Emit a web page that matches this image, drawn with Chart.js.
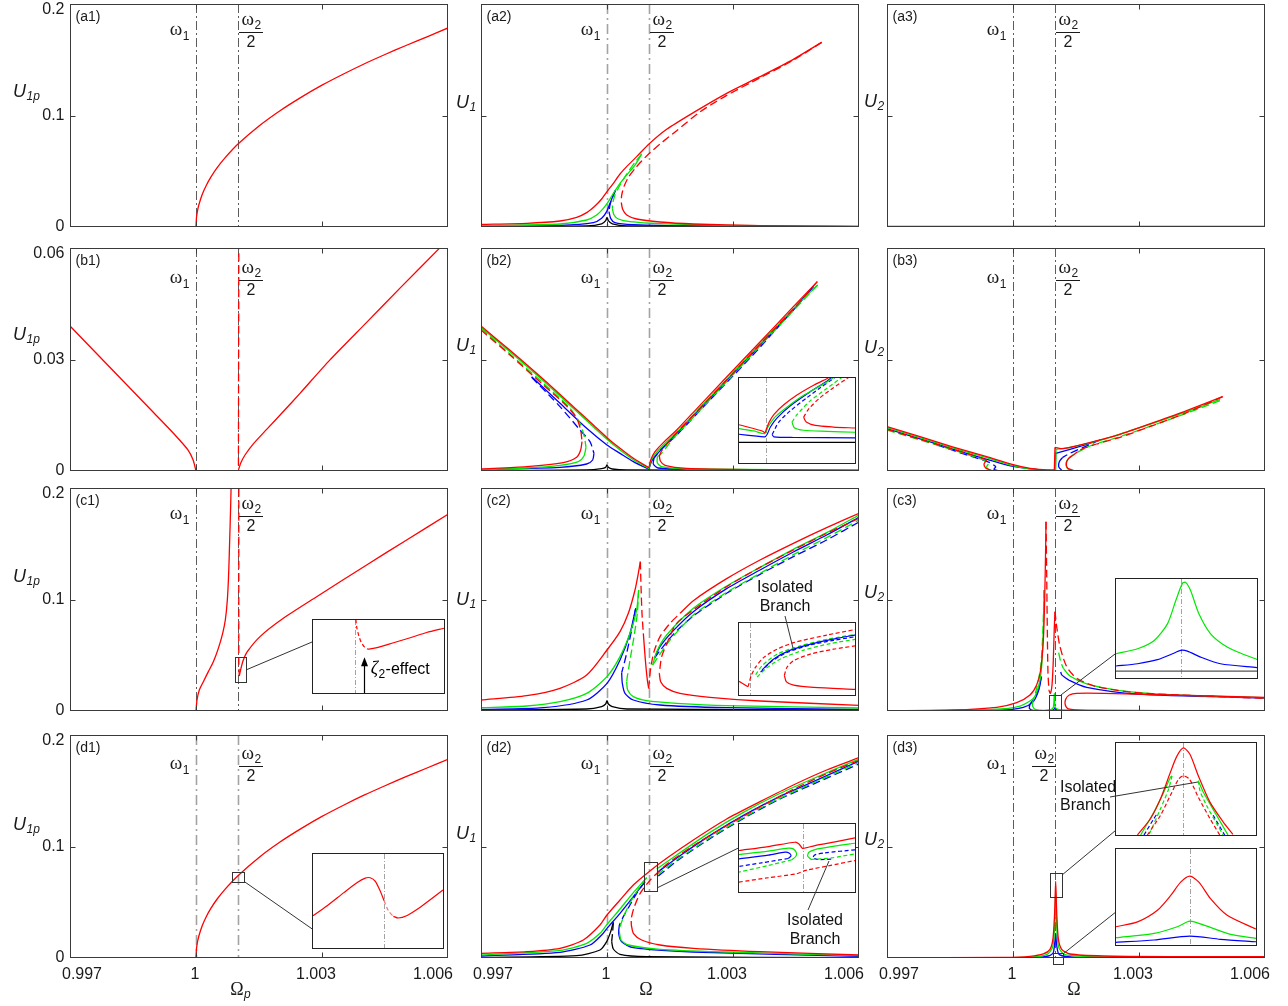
<!DOCTYPE html>
<html>
<head>
<meta charset="utf-8">
<title>Frequency response curves</title>
<script src="https://cdn.jsdelivr.net/npm/chart.js@4.4.1/dist/chart.umd.min.js"></script>
<style>
  html, body { margin: 0; padding: 0; background: #fff; }
  body { position: relative; width: 1288px; height: 1006px; overflow: hidden; }
  canvas { position: absolute; }
</style>
</head>
<body>
<script>
// ---------------------------------------------------------------------------
// Axis values
// ---------------------------------------------------------------------------
const omegaTicks = [0.997, 1, 1.003, 1.006];
const omegaTickText = ['0.997', '1', '1.003', '1.006'];
const u1pTicks = [0, 0.1, 0.2];
const u1pTicksB = [0, 0.03, 0.06];
const normTicks = [0, 0.5, 1];
const omega1 = 1.0;
const omega2Half = 1.001;

// ---------------------------------------------------------------------------
// Column 1 : U1p vs Omega_p
// ---------------------------------------------------------------------------
const a1Red = [[1.0,0],[1.00001,0.0078],[1.00002,0.0109],[1.00004,0.0154],[1.00007,0.0202],[1.00015,0.0294],[1.00025,0.0377],[1.00035,0.0445],[1.0005,0.053],[1.0007,0.0624],[1.001,0.0744],[1.0015,0.0906],[1.002,0.1043],[1.0025,0.1163],[1.003,0.1272],[1.0035,0.137],[1.004,0.1462],[1.0045,0.1547],[1.005,0.1628],[1.0055,0.1706],[1.006,0.1785]];

const b1RedL = [[0.997,0.039],[0.998,0.0273],[0.999,0.0156],[0.9995,0.0097],[0.9998,0.0058],[0.99993,0.003],[1.0,0]];
const b1RedDash = [[1.00101,0.0015],[1.00102,0.061]];
const b1RedR = [[1.001016,0.00045],[1.001063,0.0021],[1.001167,0.0043],[1.001365,0.0073],[1.001683,0.0112],[1.002079,0.016],[1.002476,0.0209],[1.00319,0.0299],[1.004063,0.04],[1.004857,0.0492],[1.005794,0.0599]];

const c1RedL = [[1.0,0],[1.000024,0.0099],[1.000079,0.0188],[1.000175,0.0263],[1.000294,0.0353],[1.000413,0.0442],[1.000532,0.0562],[1.000635,0.0697],[1.000698,0.0816],[1.000746,0.0996],[1.000778,0.1235],[1.000802,0.1534],[1.000825,0.1833],[1.000841,0.21]];
const c1RedDash = [[1.00102,0.21],[1.00102,0.045],[1.00103,0.0314]];
const c1RedR = [[1.00103,0.0314],[1.001071,0.0383],[1.001127,0.0457],[1.001222,0.0532],[1.001524,0.0667],[1.002079,0.0831],[1.002873,0.1025],[1.004063,0.131],[1.005016,0.1534],[1.006,0.1764]];

const d1Red = [[1.0,0],[1.00001,0.0077],[1.00002,0.0108],[1.00004,0.0153],[1.00007,0.02],[1.00015,0.0292],[1.00025,0.0375],[1.00035,0.0443],[1.0005,0.0527],[1.0007,0.062],[1.001,0.0738],[1.0015,0.0902],[1.002,0.104],[1.0025,0.116],[1.003,0.127],[1.0035,0.1368],[1.004,0.146],[1.0045,0.1545],[1.005,0.1626],[1.0055,0.1704],[1.006,0.1782]];

// ---------------------------------------------------------------------------
// Column 2 : U1 vs Omega (normalised amplitude)
// ---------------------------------------------------------------------------
const a2RedUp = [[0.997,0.012],[0.998087,0.0164],[0.998881,0.0269],[0.999278,0.0433],[0.999516,0.0643],[0.999714,0.0942],[0.999873,0.1256],[1.0,0.1584],[1.000151,0.1958],[1.00031,0.2377],[1.000468,0.2706],[1.000706,0.3154],[1.001,0.3722],[1.001421,0.438],[1.002056,0.5127],[1.002849,0.5994],[1.003643,0.6741],[1.004437,0.7519],[1.005111,0.8281]];
const a2RedDash = [[1.005111,0.8281],[1.004437,0.748],[1.003643,0.669],[1.002849,0.59],[1.002214,0.516],[1.001659,0.432],[1.001262,0.372],[1.001024,0.333],[1.000825,0.296],[1.000667,0.262],[1.000508,0.222],[1.000405,0.182],[1.000349,0.142],[1.000341,0.109]];
const a2RedLow = [[1.000341,0.109],[1.000373,0.0792],[1.000468,0.0538],[1.000706,0.0359],[1.001262,0.0224],[1.002056,0.0135],[1.003643,0.006],[1.006,0.003]];
const a2GreenUp = [[0.997,0.006],[0.998881,0.0135],[0.999516,0.0314],[0.999754,0.0538],[0.999913,0.0837],[1.000032,0.1136],[1.000151,0.151],[1.00031,0.1958],[1.000468,0.2332],[1.000667,0.278],[1.000825,0.3274]];
const a2GreenDash = [[1.000825,0.3274],[1.000667,0.29],[1.000468,0.2377],[1.00031,0.1883],[1.00019,0.1435],[1.000135,0.1061],[1.000127,0.0837]];
const a2GreenLow = [[1.000127,0.0837],[1.000167,0.0538],[1.00027,0.0359],[1.000548,0.0239],[1.001262,0.0149],[1.002849,0.0075],[1.006,0.003]];
const a2BlueUp = [[0.997,0.003],[0.998881,0.0075],[0.999675,0.0194],[0.999873,0.0389],[0.999992,0.0688],[1.000071,0.1061],[1.000151,0.1435],[1.000206,0.1659]];
const a2BlueDash = [[1.000206,0.1659],[1.000135,0.136],[1.000071,0.0987],[1.000048,0.0688]];
const a2BlueLow = [[1.000048,0.0688],[1.000087,0.0389],[1.00019,0.0194],[1.000627,0.0105],[1.002056,0.0045],[1.006,0.0015]];
const a2Black = [[0.997,0.0015],[0.999516,0.0045],[0.999873,0.0135],[0.999968,0.0284],[1.0,0.0433],[1.000032,0.0284],[1.000127,0.0135],[1.000468,0.0045],[1.006,0.0015]];

const b2RedDesc = [[0.997,0.6502],[0.99769,0.5411],[0.998484,0.4111],[0.999198,0.2885],[0.999675,0.2063],[1.0,0.1495],[1.00031,0.1016],[1.000627,0.0568],[1.000865,0.0299],[1.001,0.0149]];
const b2RedDashL = [[0.997,0.6323],[0.99769,0.5202],[0.998484,0.3857],[0.99904,0.2915],[0.999278,0.2362],[0.999373,0.1839],[0.999405,0.1315]];
const b2RedHookL = [[0.999405,0.1315],[0.999373,0.0942],[0.999278,0.0613],[0.99896,0.0374],[0.998087,0.0194],[0.997,0.009]];
const b2RedAsc = [[1.001,0.0149],[1.00104,0.0493],[1.001143,0.0867],[1.001341,0.1271],[1.001659,0.1839],[1.002056,0.2631],[1.002849,0.4215],[1.003643,0.5785],[1.004437,0.7369],[1.005008,0.849]];
const b2RedDashR = [[1.005008,0.849],[1.004437,0.7265],[1.003643,0.568],[1.002849,0.4081],[1.002056,0.2496],[1.001659,0.1719],[1.001421,0.1211],[1.001302,0.0912],[1.001246,0.0673]];
const b2RedLowR = [[1.001246,0.0673],[1.00127,0.0448],[1.001381,0.0254],[1.001897,0.012],[1.003643,0.006],[1.006,0.003]];
const b2GreenDesc = [[0.997,0.6442],[0.99769,0.5351],[0.998484,0.4051],[0.999198,0.281],[0.999675,0.1988],[1.0,0.142],[1.00031,0.0942],[1.000627,0.0508],[1.000865,0.0254],[1.001,0.0105]];
const b2GreenDashL = [[0.997,0.6383],[0.99769,0.5247],[0.998484,0.3931],[0.999119,0.281],[0.999357,0.2138],[0.99946,0.154],[0.9995,0.1061]];
const b2GreenHookL = [[0.9995,0.1061],[0.999452,0.0673],[0.999317,0.0419],[0.998881,0.0254],[0.998087,0.0135],[0.997,0.006]];
const b2GreenAsc = [[1.001,0.0105],[1.001048,0.0463],[1.001159,0.0792],[1.001365,0.1211],[1.001683,0.1779],[1.002079,0.2571],[1.002849,0.4111],[1.003643,0.5695],[1.004437,0.728],[1.005016,0.8341]];
const b2GreenDashR = [[1.005016,0.8341],[1.004437,0.719],[1.003643,0.5605],[1.002849,0.4006],[1.002056,0.2407],[1.001579,0.1465],[1.001302,0.0792],[1.001198,0.0643]];
const b2GreenLowR = [[1.001198,0.0643],[1.001198,0.0374],[1.001302,0.0194],[1.001897,0.009],[1.006,0.0045]];
const b2BlueDesc = [[0.998206,0.423],[0.998881,0.3034],[0.999516,0.1913],[1.0,0.1166],[1.00031,0.0792],[1.000627,0.0419],[1.001,0.0075]];
const b2BlueDashL = [[0.998206,0.42],[0.998881,0.2885],[0.999357,0.1839],[0.999595,0.1315],[0.99969,0.0792]];
const b2BlueHookL = [[0.99969,0.0792],[0.999659,0.0493],[0.999516,0.0314],[0.998881,0.0164],[0.997,0.006]];
const b2BlueAsc = [[1.001,0.0075],[1.001056,0.0419],[1.001183,0.0747],[1.001421,0.1211],[1.002056,0.2481],[1.002849,0.4066],[1.003643,0.5635],[1.004437,0.722],[1.004913,0.8266]];
const b2BlueDashR = [[1.004913,0.8266],[1.003643,0.5546],[1.002452,0.3184],[1.001659,0.1614],[1.001262,0.0912],[1.001119,0.0568]];
const b2BlueLowR = [[1.001119,0.0568],[1.001103,0.0314],[1.001222,0.0135],[1.002056,0.006],[1.006,0.0015]];
const b2Black = [[0.997,0.0015],[0.999516,0.0045],[0.999873,0.0105],[0.999968,0.0164],[1.0,0.0269],[1.000032,0.0164],[1.000127,0.009],[1.000468,0.0045],[1.006,0.0015]];

const c2RedL = [[0.997,0.0493],[0.998087,0.0688],[0.998881,0.1016],[0.999516,0.1614],[1.0,0.2735],[1.00031,0.3558],[1.000508,0.438],[1.000667,0.5426],[1.000746,0.6173],[1.000794,0.6697]];
const c2RedDash1 = [[1.000794,0.6697],[1.00081,0.5575],[1.000833,0.438],[1.000865,0.3483]];
const c2RedMid = [[1.000865,0.3483],[1.000913,0.2287],[1.00096,0.139],[1.000992,0.1016]];
const c2RedDash2 = [[1.000992,0.1016],[1.00104,0.1913],[1.001119,0.2661],[1.001262,0.3333],[1.0015,0.3931],[1.001738,0.438]];
const c2RedUp = [[1.001738,0.438],[1.002056,0.4948],[1.002849,0.5934],[1.003643,0.6771],[1.004437,0.7519],[1.00523,0.8221],[1.006,0.8864]];
const c2RedDash3 = [[1.006,0.864],[1.00523,0.7967],[1.004437,0.722],[1.003643,0.6442],[1.002849,0.5575],[1.002214,0.4753],[1.001659,0.3931],[1.00146,0.3184],[1.001302,0.2436],[1.001246,0.1689]];
const c2RedLow = [[1.001246,0.1689],[1.001278,0.1315],[1.001421,0.1016],[1.001738,0.0792],[1.002452,0.0613],[1.003643,0.0448],[1.006,0.0254]];
const c2GreenL = [[0.997,0.0149],[0.998087,0.0224],[0.998881,0.0419],[0.999516,0.0792],[1.0,0.154],[1.00031,0.2436],[1.000548,0.3483],[1.000706,0.4529],[1.000754,0.5426]];
const c2GreenDash = [[1.000754,0.5426],[1.000722,0.438],[1.000643,0.3333],[1.000548,0.2287],[1.000484,0.154],[1.000468,0.1315]];
const c2GreenLow = [[1.000468,0.1315],[1.000492,0.0942],[1.000627,0.0643],[1.000944,0.0463],[1.001659,0.0344],[1.002849,0.0239],[1.006,0.0135]];
const c2GreenUp = [[1.001087,0.2063],[1.001183,0.2661],[1.001421,0.3408],[1.002056,0.4604],[1.002849,0.5605],[1.003643,0.6442],[1.004437,0.725],[1.00523,0.7997],[1.006,0.8789]];
const c2GreenDashUp = [[1.001087,0.2063],[1.001222,0.2436],[1.0015,0.3184],[1.002056,0.4305],[1.002849,0.5321],[1.003643,0.6173],[1.004437,0.701],[1.00523,0.7773],[1.006,0.8565]];
const c2BlueL = [[0.997,0.0075],[0.998484,0.0149],[0.999516,0.0493],[1.0,0.1241],[1.00031,0.2287],[1.000548,0.3483],[1.000683,0.4604]];
const c2BlueDash = [[1.000683,0.4604],[1.000587,0.3632],[1.000468,0.2586],[1.000389,0.1988],[1.000349,0.1719]];
const c2BlueLow = [[1.000349,0.1719],[1.000365,0.1241],[1.000429,0.0792],[1.000627,0.0493],[1.001262,0.0269],[1.002849,0.0149],[1.006,0.0075]];
const c2BlueUp = [[1.001127,0.2362],[1.001262,0.2885],[1.001579,0.3602],[1.002056,0.4454],[1.002849,0.5486],[1.003643,0.6323],[1.004437,0.713],[1.00523,0.7892],[1.006,0.8685]];
const c2BlueDashUp = [[1.001127,0.2362],[1.001262,0.2706],[1.001579,0.3438],[1.002056,0.426],[1.002849,0.5277],[1.003643,0.6129],[1.004437,0.6921],[1.00523,0.7668],[1.006,0.8475]];
const c2Black = [[0.997,0.0045],[0.999516,0.009],[0.999873,0.0194],[0.999968,0.0314],[1.0,0.0463],[1.000032,0.0314],[1.000127,0.0194],[1.000468,0.009],[1.006,0.0045]];

const d2RedUp = [[0.997,0.0209],[0.998087,0.0284],[0.998881,0.0433],[0.999437,0.0807],[0.999833,0.148],[1.0,0.1928],[1.00031,0.2601],[1.000627,0.3274],[1.001,0.3871],[1.001421,0.4469],[1.002056,0.5291],[1.002849,0.6233],[1.003643,0.701],[1.004437,0.7758],[1.00523,0.843],[1.006,0.8984]];
const d2RedDash = [[1.006,0.8864],[1.00523,0.8266],[1.004437,0.7564],[1.003643,0.6771],[1.002849,0.5934],[1.002056,0.5037],[1.001421,0.42],[1.001024,0.3483],[1.000786,0.2885],[1.000643,0.2257],[1.000579,0.1779],[1.000579,0.148]];
const d2RedLow = [[1.000579,0.148],[1.000627,0.1106],[1.000825,0.0807],[1.001262,0.0583],[1.002056,0.0433],[1.003643,0.0284],[1.006,0.0135]];
const d2GreenL = [[0.997,0.0135],[0.998881,0.0344],[0.999516,0.0658],[0.999833,0.1106],[1.0,0.151],[1.00031,0.2197],[1.000627,0.293],[1.000944,0.3602]];
const d2GreenDash = [[1.000944,0.3602],[1.000786,0.3199],[1.000587,0.2601],[1.000429,0.2003],[1.000325,0.148],[1.000294,0.1181]];
const d2GreenLow = [[1.000294,0.1181],[1.000333,0.0807],[1.000508,0.0583],[1.001262,0.0389],[1.002849,0.0269],[1.006,0.0105]];
const d2GreenUp = [[1.001183,0.3991],[1.001659,0.4619],[1.002452,0.5635],[1.003246,0.6532],[1.00404,0.7309],[1.004833,0.7982],[1.006,0.8924]];
const d2GreenDashUp = [[1.001183,0.3722],[1.001659,0.4395],[1.002452,0.5396],[1.003246,0.6293],[1.00404,0.71],[1.004833,0.7788],[1.006,0.8774]];
const d2BlueL = [[0.997,0.009],[0.998881,0.0254],[0.999595,0.0583],[0.999873,0.1031],[1.0,0.133],[1.00031,0.2003],[1.000627,0.275],[1.000905,0.3423]];
const d2BlueDash = [[1.000905,0.3423],[1.000706,0.29],[1.000548,0.2377],[1.000389,0.1853],[1.000294,0.148]];
const d2BlueLow = [[1.000294,0.148],[1.000278,0.1106],[1.000349,0.0732],[1.000627,0.0463],[1.002056,0.0269],[1.006,0.0075]];
const d2BlueUp = [[1.001222,0.3871],[1.001738,0.4589],[1.002532,0.559],[1.003325,0.6472],[1.004119,0.725],[1.004913,0.7907],[1.006,0.8834]];
const d2BlueDashUp = [[1.001222,0.368],[1.001738,0.445],[1.002532,0.545],[1.003325,0.634],[1.004119,0.713],[1.004913,0.78],[1.006,0.87]];
const d2BlackL = [[0.997,0.003],[0.999278,0.0105],[0.999833,0.0359],[0.999992,0.0732],[1.000087,0.1181],[1.000151,0.1599]];
const d2BlackDash = [[1.000151,0.1599],[1.000135,0.1181],[1.000111,0.0732]];
const d2BlackLow = [[1.000111,0.0732],[1.000151,0.0404],[1.00031,0.0164],[1.000944,0.006],[1.006,0.0015]];

// ---------------------------------------------------------------------------
// Column 3 : U2 vs Omega (normalised amplitude)
// ---------------------------------------------------------------------------
const a3Red = [[0.997,0.003],[1.006,0.003]];

const b3RedDesc = [[0.997,0.1988],[0.997786,0.154],[0.998579,0.1076],[0.999373,0.0643],[1.0,0.0284],[1.000405,0.012],[1.000722,0.006],[1.000921,0.0045],[1.000984,0.0045]];
const b3RedJump = [[1.000984,0.0045],[1.001,0.1061]];
const b3RedAsc = [[1.001,0.1061],[1.001198,0.1001],[1.001754,0.1241],[1.002548,0.1644],[1.003341,0.2167],[1.004135,0.2706],[1.004992,0.3333]];
const b3RedDashR = [[1.004992,0.3333],[1.004135,0.2616],[1.003341,0.2048],[1.002548,0.151],[1.001992,0.1211],[1.001595,0.0942],[1.001437,0.0717]];
const b3RedHookR = [[1.001437,0.0717],[1.001325,0.0568],[1.00127,0.0344],[1.001302,0.012],[1.001437,0.003]];
const b3RedDashL = [[0.997,0.1868],[0.997786,0.142],[0.998579,0.0972],[0.999214,0.0613],[0.999373,0.0493]];
const b3RedHookL = [[0.999373,0.0493],[0.99931,0.0314],[0.999349,0.0135],[0.999468,0.0045]];
const b3RedZero = [[0.997,0.0015],[1.006,0.0015]];
const b3GreenDesc = [[0.997,0.1943],[0.997786,0.1495],[0.998579,0.1031],[0.999373,0.0598],[1.0,0.0239],[1.000405,0.009],[1.000881,0.003]];
const b3GreenDashL = [[0.997,0.1839],[0.997786,0.139],[0.998579,0.0942],[0.999294,0.0493],[0.999413,0.0314]];
const b3GreenHookL = [[0.999413,0.0314],[0.999373,0.0194],[0.999413,0.0075],[0.999532,0.0015]];
const b3GreenJump = [[1.001016,0.0045],[1.001024,0.0972]];
const b3GreenAsc = [[1.001024,0.0972],[1.001357,0.1061],[1.002151,0.142],[1.002944,0.1898],[1.003738,0.2407],[1.004532,0.293],[1.004929,0.3214]];
const b3GreenDashR = [[1.004929,0.3154],[1.003738,0.2317],[1.002548,0.154],[1.001833,0.1121],[1.001516,0.0822],[1.001397,0.0673]];
const b3GreenHookR = [[1.001397,0.0673],[1.001294,0.0493],[1.001262,0.0269],[1.001317,0.0075],[1.001437,0.0015]];
const b3BlueDesc = [[0.997,0.1898],[0.998183,0.1211],[0.998976,0.0747],[1.0,0.0209],[1.000722,0.003]];
const b3BlueDashL = [[0.998183,0.1166],[0.998976,0.0673],[0.999452,0.0374],[0.999595,0.0194]];
const b3BlueHookL = [[0.999595,0.0194],[0.999548,0.0075],[0.999651,0.0015]];
const b3BlueJump = [[1.001008,0.003],[1.001016,0.0792]];
const b3BlueAsc = [[1.001016,0.0792],[1.001357,0.0972],[1.001754,0.1196],[1.002071,0.139]];
const b3BlueDashR = [[1.002071,0.139],[1.001675,0.1061],[1.001357,0.0792],[1.001183,0.0613]];
const b3BlueHookR = [[1.001183,0.0613],[1.001103,0.0419],[1.001087,0.0194],[1.001159,0.003]];

const c3RedL = [[0.997,0.0015],[0.998579,0.0045],[0.999611,0.0164],[1.000087,0.0374],[1.000405,0.0717],[1.000563,0.1166],[1.000659,0.1839],[1.000722,0.3184],[1.000754,0.4978],[1.000778,0.7369],[1.000786,0.849]];
const c3RedDash1 = [[1.000786,0.849],[1.000802,0.6173],[1.000817,0.3632],[1.000833,0.1689],[1.000857,0.0912]];
const c3RedV = [[1.000857,0.0912],[1.000889,0.0792],[1.000929,0.1166],[1.00096,0.2287],[1.000984,0.3782],[1.001,0.4454]];
const c3RedDash2 = [[1.001,0.4454],[1.00104,0.3782],[1.001119,0.2885],[1.001278,0.1988],[1.001516,0.1465],[1.001992,0.1091],[1.002944,0.0822],[1.004532,0.0673],[1.006,0.0568]];
const c3RedHook = [[1.006,0.0613],[1.003738,0.0717],[1.002151,0.0792],[1.001516,0.0792],[1.001341,0.0717],[1.001254,0.0523],[1.001246,0.0269],[1.001317,0.009],[1.001754,0.003],[1.006,0.0015]];
const c3GreenL = [[0.997,0],[0.999516,0.0075],[1.000167,0.0224],[1.000484,0.0568],[1.000603,0.1061],[1.000675,0.1839],[1.000722,0.3632],[1.000738,0.5426]];
const c3GreenDash = [[1.000738,0.5426],[1.000714,0.3632],[1.000659,0.1988],[1.000563,0.1016],[1.000484,0.0493]];
const c3GreenLow = [[1.000484,0.0493],[1.00046,0.0269],[1.000524,0.0075],[1.000881,0.0045],[1.00096,0.0164],[1.000984,0.0792],[1.001008,0.0164],[1.001119,0.0045],[1.002151,0.0015],[1.006,0]];
const c3GreenDashR = [[1.001087,0.2616],[1.001135,0.2212],[1.001198,0.1913]];
const c3GreenR = [[1.001198,0.1913],[1.001357,0.157],[1.001754,0.1211],[1.002548,0.0912],[1.003738,0.0732],[1.006,0.0598]];
const c3BlueL = [[0.997,0],[0.99977,0.0045],[1.000246,0.0164],[1.000484,0.0419],[1.000587,0.0792],[1.000643,0.1166],[1.000675,0.154]];
const c3BlueDash = [[1.000675,0.154],[1.000603,0.0942],[1.000508,0.0568],[1.000405,0.0314]];
const c3BlueLow = [[1.000405,0.0314],[1.00039,0.012],[1.000484,0.003],[1.000921,0.003],[1.000976,0.0075],[1.001,0.0149],[1.001024,0.0075],[1.001119,0.003],[1.006,0]];
const c3BlueDashR = [[1.001135,0.175],[1.001159,0.1614]];
const c3BlueR = [[1.001159,0.1614],[1.001357,0.136],[1.001754,0.1061],[1.002944,0.0762],[1.006,0.0583]];

const d3Red = [[0.997,0.0015],[0.99977,0.003],[1.000405,0.0075],[1.000722,0.018],[1.000881,0.0389],[1.000952,0.0867],[1.000992,0.2063],[1.001016,0.3438],[1.00104,0.2063],[1.001079,0.0867],[1.001159,0.0389],[1.001357,0.018],[1.002151,0.009],[1.003738,0.006],[1.006,0.006]];
const d3Green = [[0.997,0],[1.000325,0.003],[1.000802,0.015],[1.000944,0.049],[1.000992,0.146],[1.001016,0.296],[1.00104,0.146],[1.001087,0.049],[1.001238,0.015],[1.002151,0.0045],[1.006,0.0015]];
const d3Blue = [[0.997,0],[1.000405,0.0015],[1.000841,0.009],[1.00096,0.0239],[1.001016,0.109],[1.00104,0.0568],[1.001103,0.015],[1.001516,0.003],[1.006,0]];

// ---------------------------------------------------------------------------
// Inset curves (each inset uses a 0..1 frame of its own zoom window)
// ---------------------------------------------------------------------------
const b2iRedA = [[0,0.45],[0.1,0.415],[0.2,0.377],[0.223,0.358],[0.237,0.404],[0.26,0.481],[0.3,0.569],[0.386,0.685],[0.5,0.8],[0.643,0.915],[0.757,0.992],[0.78,1.01]];
const b2iRedDash = [[0.557,0.538],[0.6,0.635],[0.7,0.769],[0.814,0.885],[0.929,0.992],[0.95,1.01]];
const b2iRedB = [[0.557,0.538],[0.58,0.481],[0.657,0.442],[0.814,0.423],[1,0.412]];
const b2iGreenA = [[0,0.404],[0.129,0.377],[0.223,0.346],[0.249,0.423],[0.314,0.546],[0.429,0.673],[0.557,0.796],[0.729,0.931],[0.8,0.992],[0.82,1.01]];
const b2iGreenDash = [[0.457,0.481],[0.5,0.569],[0.614,0.731],[0.757,0.877],[0.871,0.992],[0.89,1.01]];
const b2iGreenB = [[0.457,0.481],[0.477,0.415],[0.557,0.385],[0.757,0.373],[1,0.362]];
const b2iBlueA = [[0,0.338],[0.129,0.319],[0.223,0.308],[0.243,0.338],[0.271,0.423],[0.329,0.531],[0.443,0.673],[0.614,0.838],[0.757,0.962],[0.8,1.01]];
const b2iBlueDash = [[0.286,0.335],[0.343,0.481],[0.443,0.615],[0.586,0.769],[0.7,0.885],[0.8,0.98],[0.83,1.01]];
const b2iBlueB = [[0.286,0.335],[0.3,0.308],[0.471,0.3],[1,0.296]];
const b2iBlack = [[0,0.242],[1,0.242]];

const c1iRedDash = [[0.327,1.01],[0.334,0.9],[0.349,0.788],[0.367,0.698],[0.392,0.631],[0.418,0.599]];
const c1iRed = [[0.418,0.599],[0.489,0.622],[0.615,0.689],[0.742,0.757],[0.868,0.829],[1,0.887]];

const c2iRedL = [[0,0.19],[0.077,0.114]];
const c2iRedDashUp = [[0.077,0.114],[0.086,0.159],[0.106,0.273],[0.143,0.386],[0.214,0.523],[0.329,0.636],[0.471,0.727],[0.757,0.832],[1,0.909]];
const c2iRedDashLow = [[0.391,0.273],[0.414,0.386],[0.471,0.477],[0.614,0.568],[0.814,0.636],[1,0.682]];
const c2iRedLow = [[0.391,0.273],[0.409,0.182],[0.471,0.136],[0.643,0.105],[1,0.077]];
const c2iGreenDashA = [[0.143,0.282],[0.2,0.409],[0.329,0.568],[0.529,0.682],[0.757,0.773],[1,0.841]];
const c2iGreenDashB = [[0.157,0.25],[0.229,0.364],[0.357,0.5],[0.557,0.623],[0.786,0.714],[1,0.773]];
const c2iBlueDash = [[0.186,0.318],[0.271,0.455],[0.414,0.591],[0.614,0.695],[0.814,0.759],[1,0.809]];
const c2iBlue = [[0.2,0.35],[0.3,0.5],[0.443,0.623],[0.643,0.718],[0.843,0.786],[1,0.832]];

const c3iGreen = [[0,0.245],[0.153,0.295],[0.271,0.379],[0.365,0.547],[0.424,0.782],[0.471,0.956],[0.494,0.966],[0.529,0.883],[0.588,0.648],[0.671,0.446],[0.788,0.312],[0.906,0.238],[1,0.188]];
const c3iBlue = [[0,0.121],[0.153,0.144],[0.294,0.185],[0.4,0.245],[0.459,0.279],[0.506,0.272],[0.6,0.211],[0.741,0.144],[1,0.104]];
const c3iBlack = [[0,0.07],[1,0.07]];

const d1iRed = [[0,0.344],[0.109,0.449],[0.237,0.589],[0.338,0.695],[0.402,0.744],[0.44,0.747],[0.478,0.712],[0.517,0.607],[0.547,0.502]];
const d1iRedDash = [[0.547,0.502],[0.58,0.396],[0.618,0.337]];
const d1iRedR = [[0.618,0.337],[0.656,0.319],[0.72,0.344],[0.822,0.432],[0.924,0.537],[1,0.618]];

const d2iRed = [[0,0.61],[0.253,0.668],[0.483,0.732],[0.517,0.707],[0.546,0.644],[0.575,0.649],[0.655,0.683],[0.828,0.737],[1,0.795]];
const d2iRedDash = [[0,0.146],[0.253,0.21],[0.497,0.268],[0.555,0.307],[0.598,0.327],[0.77,0.385],[1,0.463]];
const d2iGreenL = [[0,0.551],[0.253,0.6],[0.425,0.644],[0.468,0.634],[0.494,0.58],[0.489,0.522],[0.454,0.473]];
const d2iGreenLDash = [[0.454,0.473],[0.253,0.39],[0,0.293]];
const d2iBlueL = [[0,0.488],[0.253,0.541],[0.397,0.585],[0.434,0.571],[0.448,0.532],[0.425,0.493]];
const d2iBlueLDash = [[0.425,0.493],[0.195,0.429],[0,0.376]];
const d2iGreenR = [[1,0.717],[0.799,0.668],[0.655,0.624],[0.603,0.585],[0.592,0.527],[0.621,0.478]];
const d2iGreenRDash = [[0.621,0.478],[0.799,0.502],[1,0.561]];
const d2iBlueRDash = [[1,0.62],[0.741,0.576],[0.655,0.546],[0.638,0.502],[0.684,0.478],[0.799,0.483]];

const d3aRed = [[0.153,0],[0.247,0.179],[0.318,0.393],[0.388,0.679],[0.435,0.857],[0.482,0.946],[0.529,0.875],[0.588,0.643],[0.671,0.357],[0.765,0.143],[0.835,0.007]];
const d3aRedDash = [[0.224,0],[0.318,0.214],[0.388,0.429],[0.447,0.607],[0.482,0.643],[0.525,0.607],[0.588,0.411],[0.671,0.179],[0.741,0]];
const d3aGreenL = [[0.176,0],[0.271,0.25],[0.341,0.464],[0.388,0.625],[0.4,0.643]];
const d3aGreenLDash = [[0.4,0.643],[0.376,0.5],[0.318,0.286],[0.235,0]];
const d3aGreenR = [[0.588,0.589],[0.624,0.464],[0.718,0.214],[0.8,0]];
const d3aGreenRDash = [[0.588,0.589],[0.6,0.48],[0.647,0.321],[0.765,0]];
const d3aBlueLDash = [[0.2,0],[0.271,0.179],[0.294,0.232]];
const d3aBlueRDash = [[0.694,0.214],[0.776,0]];

const d3bRed = [[0,0.19],[0.154,0.241],[0.296,0.362],[0.391,0.517],[0.462,0.655],[0.528,0.717],[0.592,0.655],[0.675,0.483],[0.794,0.31],[1,0.166]];
const d3bGreen = [[0,0.076],[0.273,0.121],[0.438,0.19],[0.528,0.248],[0.628,0.207],[0.818,0.11],[1,0.069]];
const d3bBlue = [[0,0.028],[0.273,0.052],[0.528,0.093],[0.746,0.059],[1,0.034]];

// ---------------------------------------------------------------------------
// Styles and layout
// ---------------------------------------------------------------------------
const RED = '#ff0000', GRN = '#00e800', BLU = '#0000ff', BLK = '#000000';
const DASHED = true;
const FONT = '"Liberation Sans", Arial, Helvetica, sans-serif';
const SERIF = '"Liberation Serif", "DejaVu Serif", serif';

const COLS = [
  { cx: 0,   cw: 460, left: 70,  right: 448 },
  { cx: 450, cw: 420, left: 481, right: 859 },
  { cx: 858, cw: 430, left: 887, right: 1265 }
];
const ROWS = [
  { ry: 0,   rh: 245, top: 4,   bottom: 227, shift: 0 },
  { ry: 240, rh: 245, top: 248, bottom: 471, shift: 4 },
  { ry: 480, rh: 245, top: 488, bottom: 711, shift: 0 },
  { ry: 725, rh: 281, top: 735, bottom: 958, shift: 3 }
];
const Y_TITLE_X = [13, 456, 864];
const Y_TITLE_Y = [[92, 335, 577, 825], [103, 346, 600, 834], [102, 348, 593, 840]];
const Y_TITLE_SUB = ['1p', '1', '2'];
const X_TITLE_X = [237, 646, 1074];
const X_TITLE_Y = 990;
const X_LABEL_NUDGE = [12, -1, -6, -15];

const INSETS = {
  b2:  { x: 738,  y: 377, w: 118, h: 87,  vline: 0.229 },
  c1:  { x: 312,  y: 619, w: 133, h: 75,  vline: 0.324 },
  c2:  { x: 738,  y: 622, w: 118, h: 74,  vline: 0.094 },
  c3:  { x: 1115, y: 578, w: 143, h: 101, vline: 0.459 },
  d1:  { x: 312,  y: 853, w: 132, h: 96,  vline: 0.547 },
  d2:  { x: 738,  y: 823, w: 118, h: 70,  vline: 0.549 },
  d3a: { x: 1115, y: 742, w: 142, h: 94,  vline: 0.482 },
  d3b: { x: 1115, y: 848, w: 142, h: 98,  vline: 0.528 }
};

// zoom windows drawn on the main panels and the inset border point they link to
const ZOOM_LINKS = [
  { panel: 'c1', inset: 'c1',  box: [1.00093, 1.00119, 0.026, 0.048],    from: [1.00119, 0.0368],  frac: 0.307 },
  { panel: 'c3', inset: 'c3',  box: [1.000857, 1.001143, -0.03, 0.072],  from: [1.001143, 0.072],  frac: 0.753 },
  { panel: 'd1', inset: 'd1',  box: [1.000865, 1.001151, 0.0685, 0.0774], from: [1.001151, 0.0685], frac: 0.79 },
  { panel: 'd2', inset: 'd2',  box: [1.000881, 1.00119, 0.3004, 0.4305], from: [1.00119, 0.314],   frac: 0.36 },
  { panel: 'd3', inset: 'd3a', box: [1.000881, 1.001167, 0.274, 0.381],  from: [1.001167, 0.372],  frac: 0.946 },
  { panel: 'd3', inset: 'd3b', box: [1.000952, 1.00119, -0.027, 0.022],  from: [1.00119, 0.018],   frac: 0.66 }
];

const BRANCH_NOTES = [
  { x: 785,  y: [588, 607], align: 'center', from: [785, 616],  to: [793, 648] },
  { x: 815,  y: [921, 940], align: 'center', from: [808, 910],  to: [829, 861] },
  { x: 1060, y: [788, 806], align: 'left',   from: [1110, 797], to: [1198, 782] }
];
const ZETA_ARROW = [0.387, 0.0, 0.49];
const ZETA_TEXT = [0.44, 0.32];

// ---------------------------------------------------------------------------
// Helpers
// ---------------------------------------------------------------------------
const charts = {};

function addCanvas(left, top, w, h) {
  const c = document.createElement('canvas');
  c.width = w;
  c.height = h;
  c.style.left = left + 'px';
  c.style.top = top + 'px';
  c.style.width = w + 'px';
  c.style.height = h + 'px';
  document.body.appendChild(c);
  return c;
}

function toDatasets(series, lw, dash) {
  return series.map(([pts, color, dashed]) => ({
    data: pts.map(([x, y]) => ({ x, y })),
    showLine: true,
    pointRadius: 0,
    borderColor: color,
    borderWidth: lw,
    borderDash: dashed ? dash : [],
    tension: 0.25,
    fill: false
  }));
}

function scaleOpts(min, max, ticks) {
  return {
    type: 'linear', display: false, min, max,
    afterBuildTicks: s => { s.ticks = ticks.map(v => ({ value: v })); }
  };
}

function textWithSub(ctx, x, y, main, mainFont, sub, subFont, subDy) {
  ctx.font = mainFont;
  ctx.fillText(main, x, y);
  const w = ctx.measureText(main).width;
  ctx.font = subFont;
  ctx.fillText(sub, x + w + 0.5, y + subDy);
  return w + 0.5 + ctx.measureText(sub).width;
}

function panelDeco(col, row, yTicks, opt) {
  const C = COLS[col], R = ROWS[row];
  const light = col === 1 || opt.lightLines;
  return {
    id: 'panelDeco',
    beforeDatasetsDraw(chart) {
      const { ctx, chartArea: a, scales: { x } } = chart;
      ctx.save();
      ctx.strokeStyle = light ? '#a3a3a3' : '#5c5c5c';
      ctx.lineWidth = light ? 1.6 : 1;
      ctx.setLineDash(light ? [10, 4, 2, 4] : [9, 3, 2, 3]);
      [omega1, omega2Half].forEach(w => {
        const px = Math.round(x.getPixelForValue(w)) + 0.5;
        ctx.beginPath();
        ctx.moveTo(px, a.top);
        ctx.lineTo(px, a.bottom);
        ctx.stroke();
      });
      ctx.restore();
    },
    afterDatasetsDraw(chart) {
      const { ctx, chartArea: a, scales: { x, y } } = chart;
      const L = Math.round(a.left) + 0.5, Rt = Math.round(a.right) - 0.5;
      const T = Math.round(a.top) + 0.5, B = Math.round(a.bottom) - 0.5;
      ctx.save();
      // box and inner ticks
      ctx.strokeStyle = '#3a3a3a';
      ctx.lineWidth = 1;
      ctx.setLineDash([]);
      ctx.strokeRect(L, T, Rt - L, B - T);
      ctx.beginPath();
      omegaTicks.forEach(v => {
        const px = Math.round(x.getPixelForValue(v)) + 0.5;
        if (px < L + 3 || px > Rt - 3) return;
        ctx.moveTo(px, B); ctx.lineTo(px, B - 5);
        ctx.moveTo(px, T); ctx.lineTo(px, T + 5);
      });
      yTicks.forEach(v => {
        const py = Math.round(y.getPixelForValue(v)) + 0.5;
        if (py < T + 3 || py > B - 3) return;
        ctx.moveTo(L, py); ctx.lineTo(L + 5, py);
        ctx.moveTo(Rt, py); ctx.lineTo(Rt - 5, py);
      });
      ctx.stroke();

      ctx.fillStyle = '#1a1a1a';
      ctx.textBaseline = 'middle';
      // tick labels
      if (row === 3) {
        ctx.font = `16px ${FONT}`;
        ctx.textAlign = 'center';
        omegaTicks.forEach((v, i) => {
          ctx.fillText(omegaTickText[i], x.getPixelForValue(v) + X_LABEL_NUDGE[i], B + 17);
        });
      }
      if (col === 0) {
        ctx.font = `16px ${FONT}`;
        ctx.textAlign = 'right';
        yTicks.forEach(v => {
          ctx.fillText(String(v), L - 6, Math.max(y.getPixelForValue(v), T + 5));
        });
      }
      ctx.textAlign = 'left';
      // panel tag
      ctx.font = `14px ${FONT}`;
      ctx.fillText(opt.label, L + 5, T + 13);
      // y title
      textWithSub(ctx, Y_TITLE_X[col] - C.cx, Y_TITLE_Y[col][row] - R.ry, 'U', `italic 18px ${FONT}`,
        Y_TITLE_SUB[col], `italic 12px ${FONT}`, 5);
      // x title
      if (row === 3) {
        ctx.textAlign = 'center';
        ctx.font = `18px ${SERIF}`;
        const tx = X_TITLE_X[col] - C.cx, ty = X_TITLE_Y - R.ry;
        ctx.fillText('Ω', tx, ty);
        if (col === 0) {
          ctx.textAlign = 'left';
          ctx.font = `italic 12px ${FONT}`;
          ctx.fillText('p', tx + 7, ty + 5);
        }
      }
      // omega markers
      const s = R.shift;
      const ox = x.getPixelForValue(omega1), hx = x.getPixelForValue(omega2Half);
      ctx.textAlign = 'left';
      ctx.font = `19px ${SERIF}`;
      const ww = ctx.measureText('ω').width;
      ctx.font = `12px ${FONT}`;
      const sw = ctx.measureText('1').width;
      textWithSub(ctx, ox - 7 - ww - sw, T + 26 + s, 'ω', `19px ${SERIF}`, '1', `12px ${FONT}`, 6);
      const fc = opt.fracLeft ? hx - 11 : hx + 13;
      ctx.font = `12px ${FONT}`;
      const s2 = ctx.measureText('2').width;
      textWithSub(ctx, fc - (ww + s2) / 2, T + 16 + s, 'ω', `19px ${SERIF}`, '2', `12px ${FONT}`, 5);
      ctx.strokeStyle = '#1a1a1a';
      ctx.beginPath();
      ctx.moveTo(fc - 12, Math.round(T + 27 + s) + 0.5);
      ctx.lineTo(fc + 12, Math.round(T + 27 + s) + 0.5);
      ctx.stroke();
      ctx.textAlign = 'center';
      ctx.font = `16px ${FONT}`;
      ctx.fillText('2', fc, T + 38 + s);
      ctx.restore();
    }
  };
}

function makePanel(id, col, row, yMax, yTicks, series, opt) {
  const C = COLS[col], R = ROWS[row];
  const cv = addCanvas(C.cx, R.ry, C.cw, R.rh);
  const chart = new Chart(cv, {
    type: 'scatter',
    data: { datasets: toDatasets(series, 1.3, [8, 4]) },
    options: {
      responsive: false,
      animation: false,
      devicePixelRatio: 1,
      events: [],
      layout: {
        padding: { left: C.left - C.cx, right: C.cx + C.cw - C.right, top: R.top - R.ry, bottom: R.ry + R.rh - R.bottom }
      },
      scales: { x: scaleOpts(0.997, 1.006, omegaTicks), y: scaleOpts(0, yMax, yTicks) },
      plugins: { legend: { display: false }, tooltip: { enabled: false } }
    },
    plugins: [panelDeco(col, row, yTicks, opt)]
  });
  chart.origin = [C.cx, R.ry];
  charts[id] = chart;
}

function makeInset(id, series, note) {
  const g = INSETS[id];
  const cv = addCanvas(g.x, g.y, g.w, g.h);
  new Chart(cv, {
    type: 'scatter',
    data: { datasets: toDatasets(series, 1.2, [4, 2.5]) },
    options: {
      responsive: false,
      animation: false,
      devicePixelRatio: 1,
      events: [],
      layout: { padding: 1 },
      scales: { x: scaleOpts(0, 1, []), y: scaleOpts(0, 1, []) },
      plugins: { legend: { display: false }, tooltip: { enabled: false } }
    },
    plugins: [{
      id: 'insetDeco',
      beforeDraw(chart) {
        chart.ctx.save();
        chart.ctx.fillStyle = '#fff';
        chart.ctx.fillRect(0, 0, g.w, g.h);
        chart.ctx.restore();
      },
      beforeDatasetsDraw(chart) {
        const { ctx, chartArea: a, scales: { x } } = chart;
        const px = Math.round(x.getPixelForValue(g.vline)) + 0.5;
        ctx.save();
        ctx.strokeStyle = '#8c8c8c';
        ctx.lineWidth = 0.8;
        ctx.setLineDash([5, 2, 1, 2]);
        ctx.beginPath();
        ctx.moveTo(px, a.top);
        ctx.lineTo(px, a.bottom);
        ctx.stroke();
        ctx.restore();
      },
      afterDraw(chart) {
        const ctx = chart.ctx;
        ctx.save();
        ctx.strokeStyle = '#222';
        ctx.lineWidth = 1;
        ctx.strokeRect(0.5, 0.5, g.w - 1, g.h - 1);
        if (note) note(chart);
        ctx.restore();
      }
    }]
  });
}

function zetaNote(chart) {
  const { ctx, scales: { x, y } } = chart;
  const ax = Math.round(x.getPixelForValue(ZETA_ARROW[0])) + 0.5;
  const y0 = y.getPixelForValue(ZETA_ARROW[1]), y1 = y.getPixelForValue(ZETA_ARROW[2]);
  ctx.strokeStyle = '#000';
  ctx.fillStyle = '#000';
  ctx.lineWidth = 1.2;
  ctx.beginPath();
  ctx.moveTo(ax, y0);
  ctx.lineTo(ax, y1 + 6);
  ctx.stroke();
  ctx.beginPath();
  ctx.moveTo(ax, y1);
  ctx.lineTo(ax - 3.5, y1 + 9);
  ctx.lineTo(ax + 3.5, y1 + 9);
  ctx.closePath();
  ctx.fill();
  ctx.textBaseline = 'middle';
  ctx.textAlign = 'left';
  const tx = x.getPixelForValue(ZETA_TEXT[0]), ty = y.getPixelForValue(ZETA_TEXT[1]);
  const w = textWithSub(ctx, tx, ty, 'ζ', `italic 18px ${SERIF}`, '2', `12px ${FONT}`, 5);
  ctx.font = `16px ${FONT}`;
  ctx.fillText('-effect', tx + w + 0.5, ty);
}

function drawOverlay() {
  const cv = addCanvas(0, 0, 1288, 1006);
  const ctx = cv.getContext('2d');
  ctx.strokeStyle = '#333';
  ctx.lineWidth = 1;
  ZOOM_LINKS.forEach(z => {
    const ch = charts[z.panel];
    const [ox, oy] = ch.origin;
    const X = v => ch.scales.x.getPixelForValue(v) + ox;
    const Y = v => ch.scales.y.getPixelForValue(v) + oy;
    const x0 = Math.round(X(z.box[0])) + 0.5, x1 = Math.round(X(z.box[1])) + 0.5;
    const y0 = Math.round(Y(z.box[3])) + 0.5, y1 = Math.round(Y(z.box[2])) + 0.5;
    ctx.strokeRect(x0, y0, x1 - x0, y1 - y0);
    const g = INSETS[z.inset];
    ctx.beginPath();
    ctx.moveTo(X(z.from[0]), Y(z.from[1]));
    ctx.lineTo(g.x, g.y + z.frac * g.h);
    ctx.stroke();
  });
  ctx.fillStyle = '#111';
  ctx.font = `16px ${FONT}`;
  ctx.textBaseline = 'middle';
  BRANCH_NOTES.forEach(n => {
    ctx.textAlign = n.align;
    ctx.fillText('Isolated', n.x, n.y[0]);
    ctx.fillText('Branch', n.x, n.y[1]);
    ctx.beginPath();
    ctx.moveTo(n.from[0], n.from[1]);
    ctx.lineTo(n.to[0], n.to[1]);
    ctx.stroke();
  });
}

// ---------------------------------------------------------------------------
// Build the figure
// ---------------------------------------------------------------------------
makePanel('a1', 0, 0, 0.2, u1pTicks, [[a1Red, RED]], { label: '(a1)' });
makePanel('b1', 0, 1, 0.06, u1pTicksB, [[b1RedL, RED], [b1RedDash, RED, DASHED], [b1RedR, RED]], { label: '(b1)' });
makePanel('c1', 0, 2, 0.2, u1pTicks, [[c1RedL, RED], [c1RedDash, RED, DASHED], [c1RedR, RED]], { label: '(c1)' });
makePanel('d1', 0, 3, 0.2, u1pTicks, [[d1Red, RED]], { label: '(d1)', lightLines: true });

makePanel('a2', 1, 0, 1, normTicks, [
  [a2RedUp, RED], [a2RedDash, RED, DASHED], [a2RedLow, RED],
  [a2GreenUp, GRN], [a2GreenDash, GRN, DASHED], [a2GreenLow, GRN],
  [a2BlueUp, BLU], [a2BlueDash, BLU, DASHED], [a2BlueLow, BLU],
  [a2Black, BLK]
], { label: '(a2)' });
makePanel('b2', 1, 1, 1, normTicks, [
  [b2RedDesc, RED], [b2RedDashL, RED, DASHED], [b2RedHookL, RED],
  [b2RedAsc, RED], [b2RedDashR, RED, DASHED], [b2RedLowR, RED],
  [b2GreenDesc, GRN], [b2GreenDashL, GRN, DASHED], [b2GreenHookL, GRN],
  [b2GreenAsc, GRN], [b2GreenDashR, GRN, DASHED], [b2GreenLowR, GRN],
  [b2BlueDesc, BLU], [b2BlueDashL, BLU, DASHED], [b2BlueHookL, BLU],
  [b2BlueAsc, BLU], [b2BlueDashR, BLU, DASHED], [b2BlueLowR, BLU],
  [b2Black, BLK]
], { label: '(b2)' });
makePanel('c2', 1, 2, 1, normTicks, [
  [c2RedL, RED], [c2RedDash1, RED, DASHED], [c2RedMid, RED], [c2RedDash2, RED, DASHED],
  [c2RedUp, RED], [c2RedDash3, RED, DASHED], [c2RedLow, RED],
  [c2GreenL, GRN], [c2GreenDash, GRN, DASHED], [c2GreenLow, GRN],
  [c2GreenUp, GRN], [c2GreenDashUp, GRN, DASHED],
  [c2BlueL, BLU], [c2BlueDash, BLU, DASHED], [c2BlueLow, BLU],
  [c2BlueUp, BLU], [c2BlueDashUp, BLU, DASHED],
  [c2Black, BLK]
], { label: '(c2)' });
makePanel('d2', 1, 3, 1, normTicks, [
  [d2RedUp, RED], [d2RedDash, RED, DASHED], [d2RedLow, RED],
  [d2GreenL, GRN], [d2GreenDash, GRN, DASHED], [d2GreenLow, GRN],
  [d2GreenUp, GRN], [d2GreenDashUp, GRN, DASHED],
  [d2BlueL, BLU], [d2BlueDash, BLU, DASHED], [d2BlueLow, BLU],
  [d2BlueUp, BLU], [d2BlueDashUp, BLU, DASHED],
  [d2BlackL, BLK], [d2BlackDash, BLK, DASHED], [d2BlackLow, BLK]
], { label: '(d2)' });

makePanel('a3', 2, 0, 1, normTicks, [[a3Red, RED]], { label: '(a3)' });
makePanel('b3', 2, 1, 1, normTicks, [
  [b3RedDesc, RED], [b3RedJump, RED], [b3RedAsc, RED], [b3RedDashR, RED, DASHED], [b3RedHookR, RED],
  [b3RedDashL, RED, DASHED], [b3RedHookL, RED], [b3RedZero, RED],
  [b3GreenDesc, GRN], [b3GreenDashL, GRN, DASHED], [b3GreenHookL, GRN],
  [b3GreenJump, GRN], [b3GreenAsc, GRN], [b3GreenDashR, GRN, DASHED], [b3GreenHookR, GRN],
  [b3BlueDesc, BLU], [b3BlueDashL, BLU, DASHED], [b3BlueHookL, BLU],
  [b3BlueJump, BLU], [b3BlueAsc, BLU], [b3BlueDashR, BLU, DASHED], [b3BlueHookR, BLU]
], { label: '(b3)' });
makePanel('c3', 2, 2, 1, normTicks, [
  [c3RedL, RED], [c3RedDash1, RED, DASHED], [c3RedV, RED], [c3RedDash2, RED, DASHED], [c3RedHook, RED],
  [c3GreenL, GRN], [c3GreenDash, GRN, DASHED], [c3GreenLow, GRN], [c3GreenDashR, GRN, DASHED], [c3GreenR, GRN],
  [c3BlueL, BLU], [c3BlueDash, BLU, DASHED], [c3BlueLow, BLU], [c3BlueDashR, BLU, DASHED], [c3BlueR, BLU]
], { label: '(c3)' });
makePanel('d3', 2, 3, 1, normTicks, [
  [d3Red, RED], [d3Green, GRN], [d3Blue, BLU]
], { label: '(d3)', fracLeft: true });

makeInset('b2', [
  [b2iRedA, RED], [b2iRedDash, RED, DASHED], [b2iRedB, RED],
  [b2iGreenA, GRN], [b2iGreenDash, GRN, DASHED], [b2iGreenB, GRN],
  [b2iBlueA, BLU], [b2iBlueDash, BLU, DASHED], [b2iBlueB, BLU],
  [b2iBlack, BLK]
]);
makeInset('c1', [[c1iRed, RED], [c1iRedDash, RED, DASHED]], zetaNote);
makeInset('c2', [
  [c2iRedL, RED], [c2iRedDashUp, RED, DASHED], [c2iRedDashLow, RED, DASHED], [c2iRedLow, RED],
  [c2iBlue, BLU], [c2iBlueDash, BLU, DASHED],
  [c2iGreenDashA, GRN, DASHED], [c2iGreenDashB, GRN, DASHED]
]);
makeInset('c3', [[c3iGreen, GRN], [c3iBlue, BLU], [c3iBlack, '#555555']]);
makeInset('d1', [[d1iRed, RED], [d1iRedDash, '#ff7070', DASHED], [d1iRedR, RED]]);
makeInset('d2', [
  [d2iRed, RED], [d2iRedDash, RED, DASHED],
  [d2iGreenL, GRN], [d2iGreenLDash, GRN, DASHED], [d2iGreenR, GRN], [d2iGreenRDash, GRN, DASHED],
  [d2iBlueL, BLU], [d2iBlueLDash, BLU, DASHED], [d2iBlueRDash, BLU, DASHED]
]);
makeInset('d3a', [
  [d3aRed, RED], [d3aRedDash, RED, DASHED],
  [d3aGreenL, GRN], [d3aGreenLDash, GRN, DASHED], [d3aGreenR, GRN], [d3aGreenRDash, GRN, DASHED],
  [d3aBlueLDash, BLU, DASHED], [d3aBlueRDash, BLU, DASHED]
]);
makeInset('d3b', [[d3bRed, RED], [d3bGreen, GRN], [d3bBlue, BLU]]);

drawOverlay();
</script>
</body>
</html>
